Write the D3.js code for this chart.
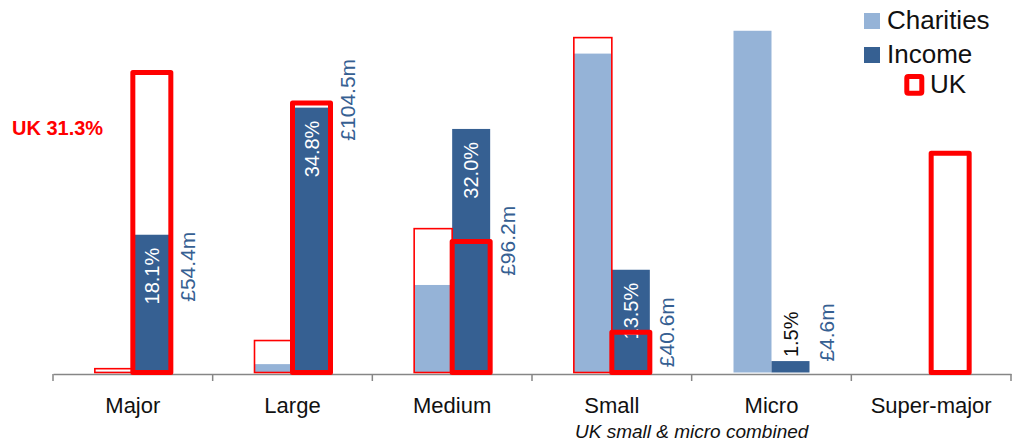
<!DOCTYPE html>
<html>
<head>
<meta charset="utf-8">
<script src="https://cdn.jsdelivr.net/npm/d3@7"></script>
<style>
  body { margin: 0; background: #fff; }
  svg { display: block; font-family: "Liberation Sans", Arial, sans-serif; }
</style>
</head>
<body>
<svg id="chart"></svg>
<script>
// data (shares in %)
const categories = ["Major", "Large", "Medium", "Small", "Micro", "Super-major"];
const charities = [0.1, 1.1, 11.5, 41.9, 44.9, 0];
const income = [18.1, 34.8, 32.0, 13.5, 1.5, 0];
const ukCharities = [0.5, 4.2, 18.9, 44.0, null, null];
const ukIncome = [39.4, 35.4, 17.2, 5.3, null, 28.8];
const incomeLabels = ["18.1%", "34.8%", "32.0%", "13.5%", "1.5%", null];
const moneyLabels = ["£54.4m", "£104.5m", "£96.2m", "£40.6m", "£4.6m", null];
const moneyLabelAt = [18.5, 41.2, 21.9, 9.9, 9.1, null];
const yMax = 45;

const lightBlue = "#95b3d7", darkBlue = "#366092", red = "#ff0000";

function drawChart() {
    const width = 1012, height = 441;
    const svg = d3.select("#chart").attr("width", width).attr("height", height);

    const x0 = d3.scaleBand().domain(categories).range([53, 1011]);
    const bw = x0.bandwidth();
    const x1 = d3.scaleBand().domain(["charities", "income"]).range([bw / 2 - 38, bw / 2 + 38]);
    const y = d3.scaleLinear().domain([0, yMax]).range([372.5, 30]);

    const rows = categories.map((c, i) => ({
        cat: c, charities: charities[i], income: income[i],
        ukC: ukCharities[i], ukI: ukIncome[i],
        pct: incomeLabels[i], money: moneyLabels[i], moneyAt: moneyLabelAt[i]
    }));

    // axis line + ticks between categories
    const axis = svg.append("g").attr("transform", "translate(0,374)");
    axis.call(d3.axisBottom(x0).tickSize(0).tickFormat(""));
    axis.select(".domain").attr("stroke", "#868686").attr("stroke-width", 1.5);
    const bounds = categories.map(c => x0(c)).concat([x0.range()[1]]);
    axis.selectAll("line.tk")
        .data(bounds)
        .join("line")
        .attr("class", "tk")
        .attr("x1", d => d).attr("x2", d => d)
        .attr("y1", 0).attr("y2", 7)
        .attr("stroke", "#868686").attr("stroke-width", 1.5);

    // category labels
    svg.append("g")
        .selectAll("text")
        .data(categories)
        .join("text")
        .attr("x", d => x0(d) + bw / 2)
        .attr("y", 413)
        .attr("text-anchor", "middle")
        .attr("font-size", 22)
        .attr("fill", "#111")
        .text(d => d);

    svg.append("text")
        .attr("x", x0("Small") + bw)
        .attr("y", 438)
        .attr("text-anchor", "middle")
        .attr("font-size", 19)
        .attr("font-style", "italic")
        .attr("fill", "#111")
        .text("UK small & micro combined");

    const group = svg.append("g")
        .selectAll("g")
        .data(rows)
        .join("g")
        .attr("transform", d => `translate(${x0(d.cat)},0)`);

    // charities bars
    group.filter(d => d.charities > 0).append("rect")
        .attr("x", x1("charities"))
        .attr("width", x1.bandwidth())
        .attr("y", d => y(d.charities))
        .attr("height", d => y(0) - y(d.charities))
        .attr("fill", lightBlue);

    // income bars
    group.filter(d => d.income > 0).append("rect")
        .attr("x", x1("income"))
        .attr("width", x1.bandwidth())
        .attr("y", d => y(d.income))
        .attr("height", d => y(0) - y(d.income))
        .attr("fill", darkBlue);

    // % labels inside the income bars (micro one sits above, in black)
    const cx = x1("income") + x1.bandwidth() / 2;
    group.filter(d => d.pct).append("text")
        .attr("transform", d => d.income > 5
            ? `translate(${cx},${y(d.income) + 13}) rotate(-90)`
            : `translate(${cx},${y(d.income) - 4}) rotate(-90)`)
        .attr("text-anchor", d => d.income > 5 ? "end" : "start")
        .attr("dominant-baseline", "central")
        .attr("font-size", 20)
        .attr("fill", d => d.income > 5 ? "#fff" : "#111")
        .text(d => d.pct);

    // £ labels to the right
    group.filter(d => d.money).append("text")
        .attr("transform", d => `translate(${cx + 36},${y(d.moneyAt)}) rotate(-90)`)
        .attr("text-anchor", "end")
        .attr("dominant-baseline", "central")
        .attr("font-size", 21)
        .attr("fill", darkBlue)
        .text(d => d.money);

    // UK outlines drawn on top
    group.filter(d => d.ukC != null).append("rect")
        .attr("x", x1("charities"))
        .attr("width", x1.bandwidth())
        .attr("y", d => y(d.ukC))
        .attr("height", d => y(0) - y(d.ukC))
        .attr("fill", "none")
        .attr("stroke", red)
        .attr("stroke-width", 1.6);

    group.filter(d => d.ukI != null).append("rect")
        .attr("x", x1("income"))
        .attr("width", x1.bandwidth())
        .attr("y", d => y(d.ukI))
        .attr("height", d => y(0) - y(d.ukI))
        .attr("fill", "none")
        .attr("stroke", red)
        .attr("stroke-width", 5)
        .attr("stroke-linejoin", "round");

    svg.append("text")
        .attr("x", 12)
        .attr("y", 135)
        .attr("font-size", 20)
        .attr("font-weight", "bold")
        .attr("fill", red)
        .text("UK 31.3%");

    // legend
    const legend = svg.append("g");
    legend.append("rect").attr("x", 864).attr("y", 13).attr("width", 16).attr("height", 16).attr("fill", lightBlue);
    legend.append("rect").attr("x", 864).attr("y", 47).attr("width", 16).attr("height", 16).attr("fill", darkBlue);
    legend.append("rect").attr("x", 906.8).attr("y", 76.5).attr("width", 15).attr("height", 16.7)
        .attr("rx", 1.5).attr("fill", "none").attr("stroke", red).attr("stroke-width", 5);
    legend.selectAll("text")
        .data([["Charities", 887, 29], ["Income", 887, 63], ["UK", 930, 93]])
        .join("text")
        .attr("x", d => d[1])
        .attr("y", d => d[2])
        .attr("font-size", 26)
        .attr("fill", "#111")
        .text(d => d[0]);
}

drawChart();
</script>
</body>
</html>
